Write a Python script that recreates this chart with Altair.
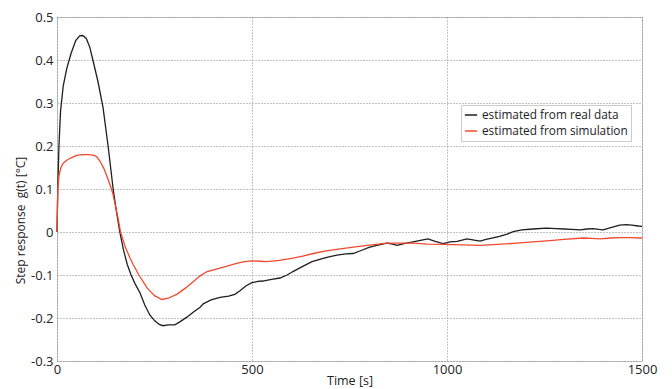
import altair as alt
import pandas as pd

# Estimated from real data
t_real = [0, 2, 5, 9, 16, 25, 36, 48, 58, 66, 75, 84, 92, 105, 118, 131, 144, 152, 161,
          170, 180, 190, 200, 213, 225, 238, 250, 262, 272, 285, 302, 315, 333, 350, 367,
          375, 395, 418, 440, 456, 470, 485, 500, 515, 528, 550, 572, 590, 605, 630, 654,
          680, 700, 718, 740, 759, 780, 800, 820, 846, 860, 872, 890, 913, 935, 951, 970,
          990, 1008, 1026, 1051, 1070, 1085, 1100, 1115, 1135, 1154, 1170, 1192, 1220,
          1256, 1280, 1300, 1320, 1341, 1360, 1374, 1390, 1400, 1420, 1443, 1460, 1474,
          1490, 1500]
g_real = [0, 0.1, 0.2, 0.28, 0.34, 0.38, 0.415, 0.445, 0.456, 0.457, 0.45, 0.43, 0.4,
          0.35, 0.29, 0.2, 0.1, 0.05, 0.0,
          -0.04, -0.075, -0.1, -0.12, -0.142, -0.17, -0.193, -0.206, -0.215, -0.218,
          -0.216, -0.216, -0.209, -0.198, -0.186, -0.175,
          -0.167, -0.158, -0.152, -0.149, -0.145, -0.136, -0.125, -0.118, -0.115, -0.114,
          -0.11, -0.107, -0.1, -0.092, -0.08, -0.069,
          -0.062, -0.057, -0.054, -0.051, -0.05, -0.043, -0.036, -0.031, -0.026, -0.028,
          -0.031, -0.027, -0.023, -0.019, -0.016, -0.022,
          -0.027, -0.023, -0.022, -0.016, -0.019, -0.021, -0.017, -0.014, -0.01, -0.005,
          0.001, 0.005, 0.007,
          0.009, 0.008, 0.007, 0.006, 0.005, 0.007, 0.008, 0.006, 0.005, 0.01, 0.016,
          0.017, 0.016, 0.014, 0.013]

# Estimated from simulation
t_sim = [0, 2, 5, 10, 16, 25, 35, 50, 65, 80, 95, 102, 110, 120, 130, 136, 143, 150, 157,
         163, 175, 187, 195, 210, 231, 250, 269, 285, 307, 330, 350, 367, 385, 418, 456,
         480, 500, 520, 538, 570, 605, 630, 657, 690, 726, 760, 795, 846, 880, 913, 950,
         990, 1040, 1085, 1130, 1179, 1220, 1264, 1300, 1349, 1370, 1392, 1420, 1443,
         1470, 1500]
g_sim = [0, 0.1, 0.13, 0.15, 0.16, 0.167, 0.172, 0.178, 0.18, 0.18, 0.178, 0.175, 0.165,
         0.148, 0.125, 0.11, 0.09, 0.06, 0.03,
         0.0, -0.035, -0.06, -0.075, -0.1, -0.13, -0.148, -0.157, -0.154, -0.145, -0.13,
         -0.115, -0.102, -0.092, -0.084, -0.074,
         -0.069, -0.067, -0.068, -0.069, -0.066, -0.061, -0.056, -0.05, -0.044, -0.039,
         -0.035, -0.031, -0.026, -0.026, -0.026, -0.028,
         -0.029, -0.03, -0.031, -0.029, -0.026, -0.023, -0.02, -0.017, -0.014, -0.015,
         -0.016, -0.014, -0.013, -0.013, -0.014]

series_names = ["estimated from real data", "estimated from simulation"]
series_colors = ["#1e1e1e", "#f2492e"]

x_ticks = [0, 500, 1000, 1500]
y_ticks = [-0.3, -0.2, -0.1, 0, 0.1, 0.2, 0.3, 0.4, 0.5]

df = pd.concat([
    pd.DataFrame({"t": t_real, "g": g_real, "series": series_names[0], "ord": range(len(t_real))}),
    pd.DataFrame({"t": t_sim, "g": g_sim, "series": series_names[1], "ord": range(len(t_sim))}),
])

FONT = "Open Sans"

chart = alt.Chart(df).mark_line(strokeWidth=1.3).encode(
    x=alt.X("t:Q", title="Time [s]",
            scale=alt.Scale(domain=[0, 1500], nice=False, zero=False),
            axis=alt.Axis(values=x_ticks, format="d", ticks=False, domain=False,
                          labelPadding=2, labelFlush=False, titleBaseline="middle",
                          titleY=19, titlePadding=0, titleFontSize=12.5)),
    y=alt.Y("g:Q", title="Step response\u00a0\u00a0g(t) [°C]",
            scale=alt.Scale(domain=[-0.3, 0.5], nice=False, zero=False),
            axis=alt.Axis(values=y_ticks, labelExpr="toString(round(datum.value*10)/10)",
                          ticks=False, domain=False, labelPadding=4, labelFlush=False,
                          titleX=-37, titleY=203, titleBaseline="middle",
                          titleAlign="center", titleFontSize=12)),
    color=alt.Color("series:N",
                    scale=alt.Scale(domain=series_names, range=series_colors),
                    legend=alt.Legend(title=None, orient="none", legendX=404, legendY=88,
                                      fillColor="white", strokeColor="#cccccc",
                                      padding=3, symbolType="stroke", symbolSize=150,
                                      symbolStrokeWidth=1.5, labelFontSize=11.8,
                                      labelFont=FONT, labelColor="#222", rowPadding=2,
                                      labelOffset=4)),
    order="ord:Q",
).properties(
    width=585, height=344,
    autosize=alt.AutoSizeParams(type="none"),
    padding={"left": 49, "top": 9, "right": 20, "bottom": 26},
).configure_view(
    stroke="#cccccc", strokeWidth=1
).configure_axis(
    grid=True, gridColor="#888888", gridDash=[1, 2], gridWidth=1,
    labelFont=FONT, titleFont=FONT, labelFontSize=13, titleFontSize=13,
    labelColor="#222", titleColor="#222", titleFontWeight="normal",
)

chart.save("out.html", embed_options={"renderer": "svg", "actions": False})
